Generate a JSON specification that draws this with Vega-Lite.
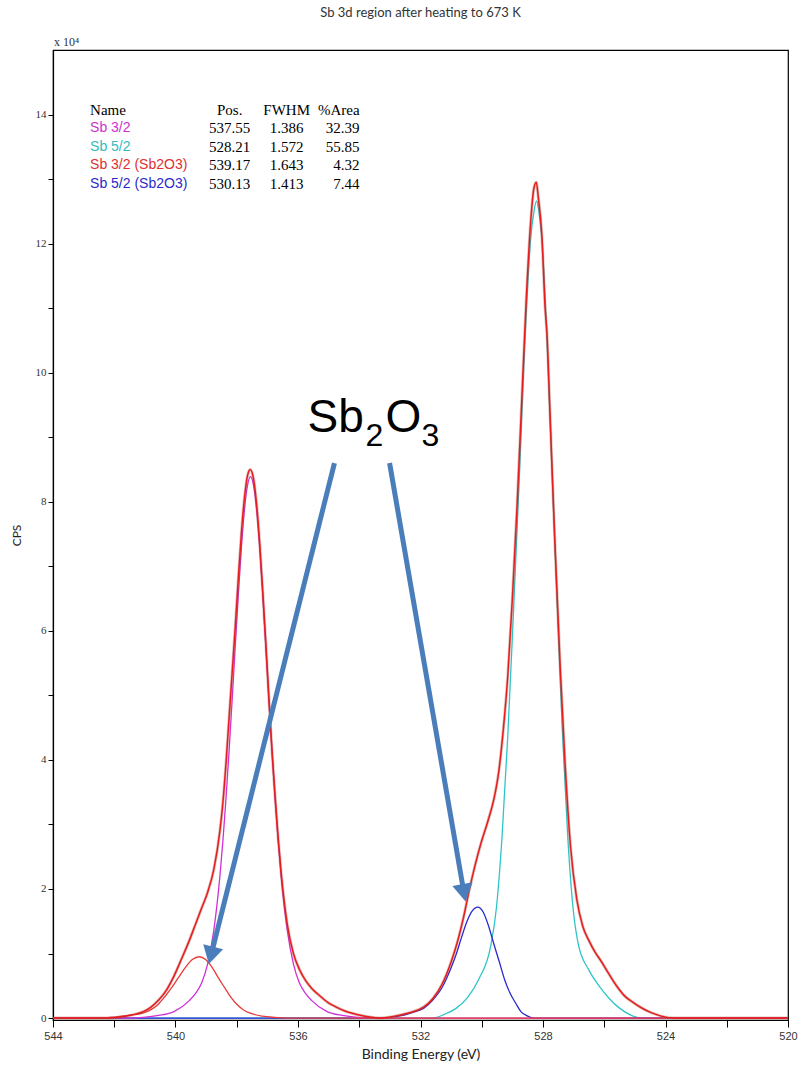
{
  "$schema": "https://vega.github.io/schema/vega-lite/v6.json",
  "autosize": "none",
  "width": 735,
  "height": 970,
  "padding": {"left": 53, "top": 50, "right": 10, "bottom": 50},
  "background": "white",
  "title": {"text": "Sb 3d region after heating to 673 K", "font": "Lato", "fontSize": 13, "fontWeight": "normal", "color": "#333333", "offset": 16, "anchor": "middle"},
  "config": {"view": {"stroke": "#000000", "strokeWidth": 1.2}, "axis": {"grid": false}},
  "datasets": {
    "curves": [
      {"s":"env","be":544,"cps":0},{"s":"env","be":542.2,"cps":0},{"s":"env","be":541.8,"cps":150},{"s":"env","be":541.4,"cps":500},{"s":"env","be":541.05,"cps":1000},{"s":"env","be":540.8,"cps":1700},{"s":"env","be":540.55,"cps":2800},{"s":"env","be":540.3,"cps":4300},{"s":"env","be":540.05,"cps":6500},{"s":"env","be":539.8,"cps":9200},{"s":"env","be":539.55,"cps":12000},{"s":"env","be":539.35,"cps":14500},{"s":"env","be":539.15,"cps":17000},{"s":"env","be":538.95,"cps":19500},{"s":"env","be":538.75,"cps":23000},{"s":"env","be":538.55,"cps":29000},{"s":"env","be":538.45,"cps":33500},{"s":"env","be":538.35,"cps":39500},{"s":"env","be":538.25,"cps":46500},{"s":"env","be":538.15,"cps":53500},{"s":"env","be":538.05,"cps":60500},{"s":"env","be":537.95,"cps":68000},{"s":"env","be":537.85,"cps":75000},{"s":"env","be":537.75,"cps":80500},{"s":"env","be":537.65,"cps":84000},{"s":"env","be":537.56,"cps":85000},{"s":"env","be":537.45,"cps":83500},{"s":"env","be":537.35,"cps":79500},{"s":"env","be":537.25,"cps":73500},{"s":"env","be":537.15,"cps":66000},{"s":"env","be":537.05,"cps":58000},{"s":"env","be":536.95,"cps":49500},{"s":"env","be":536.85,"cps":41500},{"s":"env","be":536.75,"cps":34500},{"s":"env","be":536.65,"cps":28000},{"s":"env","be":536.55,"cps":22500},{"s":"env","be":536.35,"cps":14500},{"s":"env","be":536.15,"cps":10000},{"s":"env","be":535.95,"cps":7500},{"s":"env","be":535.75,"cps":5800},{"s":"env","be":535.55,"cps":4600},{"s":"env","be":535.3,"cps":3500},{"s":"env","be":535.02,"cps":2400},{"s":"env","be":534.75,"cps":1700},{"s":"env","be":534.47,"cps":1100},{"s":"env","be":534.2,"cps":700},{"s":"env","be":533.93,"cps":400},{"s":"env","be":533.65,"cps":150},{"s":"env","be":533.38,"cps":0},{"s":"env","be":533.1,"cps":100},{"s":"env","be":532.84,"cps":300},{"s":"env","be":532.55,"cps":600},{"s":"env","be":532.3,"cps":900},{"s":"env","be":531.9,"cps":1700},{"s":"env","be":531.6,"cps":3000},{"s":"env","be":531.3,"cps":5200},{"s":"env","be":531.0,"cps":8700},{"s":"env","be":530.8,"cps":11700},{"s":"env","be":530.6,"cps":15500},{"s":"env","be":530.4,"cps":20000},{"s":"env","be":530.2,"cps":24000},{"s":"env","be":530.0,"cps":27500},{"s":"env","be":529.8,"cps":30500},{"s":"env","be":529.6,"cps":34000},{"s":"env","be":529.45,"cps":38000},{"s":"env","be":529.3,"cps":44500},{"s":"env","be":529.15,"cps":53000},{"s":"env","be":529.0,"cps":65000},{"s":"env","be":528.85,"cps":79000},{"s":"env","be":528.7,"cps":95000},{"s":"env","be":528.55,"cps":111000},{"s":"env","be":528.4,"cps":123500},{"s":"env","be":528.3,"cps":128500},{"s":"env","be":528.22,"cps":129500},{"s":"env","be":528.15,"cps":127000},{"s":"env","be":528.04,"cps":121500},{"s":"env","be":527.93,"cps":110000},{"s":"env","be":527.87,"cps":106000},{"s":"env","be":527.77,"cps":93500},{"s":"env","be":527.61,"cps":73500},{"s":"env","be":527.44,"cps":54500},{"s":"env","be":527.28,"cps":39500},{"s":"env","be":527.1,"cps":26500},{"s":"env","be":526.9,"cps":18500},{"s":"env","be":526.7,"cps":14200},{"s":"env","be":526.5,"cps":12000},{"s":"env","be":526.31,"cps":10300},{"s":"env","be":526.1,"cps":8800},{"s":"env","be":525.87,"cps":7000},{"s":"env","be":525.6,"cps":5000},{"s":"env","be":525.33,"cps":3400},{"s":"env","be":525.05,"cps":2400},{"s":"env","be":524.79,"cps":1600},{"s":"env","be":524.45,"cps":800},{"s":"env","be":524.14,"cps":300},{"s":"env","be":523.7,"cps":0},{"s":"env","be":520,"cps":0},

      {"s":"mag","be":544,"cps":0},{"s":"mag","be":541.55,"cps":0},{"s":"mag","be":541.05,"cps":100},{"s":"mag","be":540.55,"cps":400},{"s":"mag","be":540.05,"cps":1000},{"s":"mag","be":539.55,"cps":2700},{"s":"mag","be":539.35,"cps":3800},{"s":"mag","be":539.15,"cps":5400},{"s":"mag","be":538.95,"cps":8400},{"s":"mag","be":538.75,"cps":13600},{"s":"mag","be":538.55,"cps":22000},{"s":"mag","be":538.45,"cps":27600},{"s":"mag","be":538.35,"cps":34100},{"s":"mag","be":538.25,"cps":41400},{"s":"mag","be":538.15,"cps":49300},{"s":"mag","be":538.05,"cps":57500},{"s":"mag","be":537.95,"cps":65500},{"s":"mag","be":537.85,"cps":72800},{"s":"mag","be":537.75,"cps":78700},{"s":"mag","be":537.65,"cps":82500},{"s":"mag","be":537.55,"cps":83900},{"s":"mag","be":537.45,"cps":82500},{"s":"mag","be":537.35,"cps":78700},{"s":"mag","be":537.25,"cps":72800},{"s":"mag","be":537.15,"cps":65500},{"s":"mag","be":537.05,"cps":57500},{"s":"mag","be":536.95,"cps":49300},{"s":"mag","be":536.85,"cps":41400},{"s":"mag","be":536.75,"cps":34100},{"s":"mag","be":536.65,"cps":27600},{"s":"mag","be":536.55,"cps":22000},{"s":"mag","be":536.35,"cps":13600},{"s":"mag","be":536.15,"cps":8400},{"s":"mag","be":535.95,"cps":5400},{"s":"mag","be":535.75,"cps":3800},{"s":"mag","be":535.55,"cps":2700},{"s":"mag","be":535.05,"cps":1000},{"s":"mag","be":534.55,"cps":400},{"s":"mag","be":534.05,"cps":100},{"s":"mag","be":533.55,"cps":0},{"s":"mag","be":520,"cps":0},

      {"s":"cyn","be":544,"cps":0},{"s":"cyn","be":531.59,"cps":0},{"s":"cyn","be":531.21,"cps":600},{"s":"cyn","be":530.84,"cps":1500},{"s":"cyn","be":530.46,"cps":3200},{"s":"cyn","be":530.09,"cps":6100},{"s":"cyn","be":529.71,"cps":11100},{"s":"cyn","be":529.52,"cps":17100},{"s":"cyn","be":529.34,"cps":27900},{"s":"cyn","be":529.15,"cps":43700},{"s":"cyn","be":528.96,"cps":63300},{"s":"cyn","be":528.77,"cps":84200},{"s":"cyn","be":528.59,"cps":105100},{"s":"cyn","be":528.4,"cps":120900},{"s":"cyn","be":528.3,"cps":124800},{"s":"cyn","be":528.21,"cps":126600},{"s":"cyn","be":528.13,"cps":124800},{"s":"cyn","be":528.04,"cps":120900},{"s":"cyn","be":527.87,"cps":105100},{"s":"cyn","be":527.7,"cps":84200},{"s":"cyn","be":527.53,"cps":63300},{"s":"cyn","be":527.36,"cps":43700},{"s":"cyn","be":527.19,"cps":27900},{"s":"cyn","be":527.02,"cps":17100},{"s":"cyn","be":526.85,"cps":11500},{"s":"cyn","be":526.51,"cps":7500},{"s":"cyn","be":526.17,"cps":5000},{"s":"cyn","be":525.83,"cps":3000},{"s":"cyn","be":525.49,"cps":1500},{"s":"cyn","be":525.15,"cps":500},{"s":"cyn","be":524.8,"cps":0},{"s":"cyn","be":520,"cps":0},

      {"s":"red","be":544,"cps":0},{"s":"red","be":542.4,"cps":0},{"s":"red","be":541.92,"cps":200},{"s":"red","be":541.47,"cps":450},{"s":"red","be":541.02,"cps":850},{"s":"red","be":540.8,"cps":1300},{"s":"red","be":540.57,"cps":2100},{"s":"red","be":540.35,"cps":3300},{"s":"red","be":540.12,"cps":4750},{"s":"red","be":539.9,"cps":6300},{"s":"red","be":539.67,"cps":7900},{"s":"red","be":539.45,"cps":9070},{"s":"red","be":539.22,"cps":9500},{"s":"red","be":539.02,"cps":9070},{"s":"red","be":538.81,"cps":7900},{"s":"red","be":538.61,"cps":6300},{"s":"red","be":538.4,"cps":4750},{"s":"red","be":538.2,"cps":3300},{"s":"red","be":537.99,"cps":2100},{"s":"red","be":537.79,"cps":1300},{"s":"red","be":537.58,"cps":800},{"s":"red","be":537.17,"cps":300},{"s":"red","be":536.76,"cps":100},{"s":"red","be":536.35,"cps":0},{"s":"red","be":520,"cps":0},

      {"s":"blu","be":544,"cps":0},{"s":"blu","be":533.3,"cps":0},{"s":"blu","be":532.96,"cps":100},{"s":"blu","be":532.6,"cps":400},{"s":"blu","be":532.25,"cps":900},{"s":"blu","be":531.9,"cps":1500},{"s":"blu","be":531.6,"cps":2800},{"s":"blu","be":531.3,"cps":4700},{"s":"blu","be":531.0,"cps":7800},{"s":"blu","be":530.84,"cps":9800},{"s":"blu","be":530.66,"cps":12500},{"s":"blu","be":530.48,"cps":15000},{"s":"blu","be":530.31,"cps":16600},{"s":"blu","be":530.13,"cps":17200},{"s":"blu","be":529.95,"cps":16400},{"s":"blu","be":529.78,"cps":14300},{"s":"blu","be":529.6,"cps":11400},{"s":"blu","be":529.42,"cps":8600},{"s":"blu","be":529.25,"cps":5900},{"s":"blu","be":529.07,"cps":3800},{"s":"blu","be":528.89,"cps":2300},{"s":"blu","be":528.72,"cps":1000},{"s":"blu","be":528.5,"cps":300},{"s":"blu","be":528.3,"cps":0},{"s":"blu","be":520,"cps":0}
    ],
    "table": [
      {"row":0,"comp":"hdr","name":"Name","pos":"Pos.","fwhm":"FWHM","area":"%Area"},
      {"row":1,"comp":"m","name":"Sb 3/2","pos":"537.55","fwhm":"1.386","area":"32.39"},
      {"row":2,"comp":"c","name":"Sb 5/2","pos":"528.21","fwhm":"1.572","area":"55.85"},
      {"row":3,"comp":"r","name":"Sb 3/2 (Sb2O3)","pos":"539.17","fwhm":"1.643","area":"4.32"},
      {"row":4,"comp":"b","name":"Sb 5/2 (Sb2O3)","pos":"530.13","fwhm":"1.413","area":"7.44"}
    ],
    "label": [
      {"part": "Sb", "role": "main"},
      {"part": "2", "role": "sub"},
      {"part": "O", "role": "main"},
      {"part": "3", "role": "sub"}
    ]
  },
  "layer": [
    {
      "layer": [
        {
          "data": {"name": "curves"},
          "encoding": {
            "x": {"field": "be", "type": "quantitative",
              "scale": {"domain": [520, 544], "reverse": true, "nice": false, "zero": false},
              "axis": {"title": "Binding Energy (eV)", "values": [520,521,522,523,524,525,526,527,528,529,530,531,532,533,534,535,536,537,538,539,540,541,542,543,544],
                "labelExpr": "datum.value % 4 === 0 ? datum.label : ''", "format": "d", "tickSize": 7, "tickColor": "#000000", "domainColor": "#000000", "domainWidth": 1.2,
                "labelFont": "Liberation Sans", "labelFontSize": 11, "labelColor": "#333333", "labelPadding": 3, "labelFlush": false, "labelOverlap": false,
                "titleFont": "Lato", "titleFontSize": 14, "titleFontWeight": "normal", "titleColor": "#222222", "titlePadding": 6}},
            "y": {"field": "cps", "type": "quantitative",
              "scale": {"domain": [-300, 150000], "nice": false, "zero": false},
              "axis": {"title": "CPS", "values": [0,10000,20000,30000,40000,50000,60000,70000,80000,90000,100000,110000,120000,130000,140000],
                "labelExpr": "datum.value % 20000 === 0 ? format(datum.value / 10000, 'd') : ''", "tickSize": 5, "tickColor": "#000000", "domainColor": "#000000", "domainWidth": 1.2,
                "labelFont": "Liberation Serif", "labelFontSize": 11, "labelColor": "#333333", "labelPadding": 2, "labelFlush": false, "labelOverlap": false,
                "titleFont": "Lato", "titleFontSize": 12, "titleFontWeight": "normal", "titleColor": "#222222", "titlePadding": 12}}
          },
          "layer": [
            {"transform": [{"filter": "datum.s === 'cyn'"}], "mark": {"type": "line", "color": "#2fc4c8", "strokeWidth": 1.3, "interpolate": "monotone"}},
            {"transform": [{"filter": "datum.s === 'blu'"}], "mark": {"type": "line", "color": "#2a2ad0", "strokeWidth": 1.3, "interpolate": "monotone"}},
            {"transform": [{"filter": "datum.s === 'mag'"}], "mark": {"type": "line", "color": "#d030d8", "strokeWidth": 1.3, "interpolate": "monotone"}},
            {"transform": [{"filter": "datum.s === 'red'"}], "mark": {"type": "line", "color": "#e83a3a", "strokeWidth": 1.3, "interpolate": "monotone"}},
            {"transform": [{"filter": "datum.s === 'env'"}], "mark": {"type": "line", "color": "#b04a40", "strokeWidth": 3, "opacity": 0.35, "interpolate": "monotone"}},
            {"transform": [{"filter": "datum.s === 'env'"}], "mark": {"type": "line", "color": "#e41e1e", "strokeWidth": 1.5, "interpolate": "monotone"}}
          ]
        },
        {
          "data": {"values": [{}]},
          "mark": {"type": "text", "text": "x 10⁴", "align": "left", "baseline": "bottom", "dx": 1, "dy": -1, "font": "Liberation Serif", "fontSize": 12, "color": "#333333"},
          "encoding": {"x": {"datum": 544, "type": "quantitative"}, "y": {"datum": 150000, "type": "quantitative"}}
        },
        {
          "data": {"name": "label"},
          "transform": [{"filter": "datum.part === 'Sb'"}],
          "mark": {"type": "text", "align": "left", "baseline": "alphabetic", "font": "Liberation Sans", "fontSize": 46, "color": "#000000"},
          "encoding": {"x": {"datum": 535.686, "type": "quantitative"}, "y": {"datum": 90800, "type": "quantitative"}, "text": {"field": "part"}}
        },
        {
          "data": {"name": "label"},
          "transform": [{"filter": "datum.part === '2'"}],
          "mark": {"type": "text", "align": "left", "baseline": "alphabetic", "font": "Liberation Sans", "fontSize": 32, "color": "#000000"},
          "encoding": {"x": {"datum": 533.795, "type": "quantitative"}, "y": {"datum": 88640, "type": "quantitative"}, "text": {"field": "part"}}
        },
        {
          "data": {"name": "label"},
          "transform": [{"filter": "datum.part === 'O'"}],
          "mark": {"type": "text", "align": "left", "baseline": "alphabetic", "font": "Liberation Sans", "fontSize": 46, "color": "#000000"},
          "encoding": {"x": {"datum": 533.143, "type": "quantitative"}, "y": {"datum": 90800, "type": "quantitative"}, "text": {"field": "part"}}
        },
        {
          "data": {"name": "label"},
          "transform": [{"filter": "datum.part === '3'"}],
          "mark": {"type": "text", "align": "left", "baseline": "alphabetic", "font": "Liberation Sans", "fontSize": 32, "color": "#000000"},
          "encoding": {"x": {"datum": 531.969, "type": "quantitative"}, "y": {"datum": 88640, "type": "quantitative"}, "text": {"field": "part"}}
        },
        {
          "data": {"values": [{}]},
          "mark": {"type": "rule", "color": "#4a7ebb", "strokeWidth": 5},
          "encoding": {"x": {"datum": 534.81, "type": "quantitative"}, "y": {"datum": 86000, "type": "quantitative"}, "x2": {"datum": 538.84}, "y2": {"datum": 9700}}
        },
        {
          "data": {"values": [{}]},
          "mark": {"type": "rule", "color": "#4a7ebb", "strokeWidth": 5},
          "encoding": {"x": {"datum": 533.01, "type": "quantitative"}, "y": {"datum": 86000, "type": "quantitative"}, "x2": {"datum": 530.58}, "y2": {"datum": 19400}}
        },
        {
          "data": {"values": [{}]},
          "mark": {"type": "point", "shape": "triangle-down", "filled": true, "size": 420, "angle": 14, "color": "#4a7ebb", "opacity": 1},
          "encoding": {"x": {"datum": 538.84, "type": "quantitative"}, "y": {"datum": 9700, "type": "quantitative"}}
        },
        {
          "data": {"values": [{}]},
          "mark": {"type": "point", "shape": "triangle-down", "filled": true, "size": 420, "angle": 350, "color": "#4a7ebb", "opacity": 1},
          "encoding": {"x": {"datum": 530.58, "type": "quantitative"}, "y": {"datum": 19400, "type": "quantitative"}}
        }
      ]
    },
    {
      "data": {"name": "table"},
      "encoding": {
        "y": {"field": "row", "type": "quantitative", "scale": {"domain": [-3.243, 49.19], "reverse": true, "nice": false, "zero": false}, "axis": null}
      },
      "layer": [
        {"transform": [{"filter": "datum.row === 0"}], "mark": {"type": "text", "align": "left", "baseline": "middle", "font": "Liberation Serif", "fontSize": 15, "color": "#000000"},
          "encoding": {"x": {"datum": 542.79, "type": "quantitative"}, "text": {"field": "name"}}},
        {"transform": [{"filter": "datum.row > 0"}], "mark": {"type": "text", "align": "left", "baseline": "middle", "font": "Liberation Sans", "fontSize": 14},
          "encoding": {"x": {"datum": 542.79, "type": "quantitative"}, "text": {"field": "name"},
            "color": {"field": "comp", "type": "nominal", "scale": {"domain": ["hdr", "m", "c", "r", "b"], "range": ["#000000", "#cc33cc", "#33bbbb", "#e03030", "#2a2acc"]}, "legend": null}}},
        {"mark": {"type": "text", "align": "center", "baseline": "middle", "font": "Liberation Serif", "fontSize": 15, "color": "#000000"},
          "encoding": {"x": {"datum": 538.23, "type": "quantitative"}, "text": {"field": "pos"}}},
        {"mark": {"type": "text", "align": "center", "baseline": "middle", "font": "Liberation Serif", "fontSize": 15, "color": "#000000"},
          "encoding": {"x": {"datum": 536.37, "type": "quantitative"}, "text": {"field": "fwhm"}}},
        {"mark": {"type": "text", "align": "right", "baseline": "middle", "font": "Liberation Serif", "fontSize": 15, "color": "#000000"},
          "encoding": {"x": {"datum": 533.99, "type": "quantitative"}, "text": {"field": "area"}}}
      ]
    }
  ],
  "resolve": {"scale": {"y": "independent"}}
}
